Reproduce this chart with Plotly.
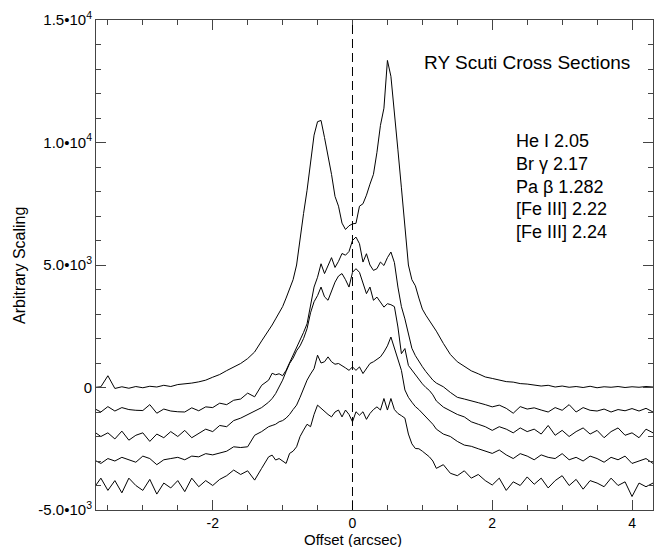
import plotly.graph_objects as go

# offsets (arcsec): 0.1 steps in the wings, 0.05 steps in the core
offset = [-3.7, -3.6, -3.5, -3.4, -3.3, -3.2, -3.1, -3.0, -2.9, -2.8,
          -2.7, -2.6, -2.5, -2.4, -2.3, -2.2, -2.1, -2.0, -1.9, -1.8,
          -1.7, -1.6, -1.5, -1.4, -1.3,
          -1.2, -1.15, -1.1, -1.05, -1.0, -0.95, -0.9, -0.85, -0.8, -0.75,
          -0.7, -0.65, -0.6, -0.55, -0.5, -0.45, -0.4, -0.35, -0.3, -0.25,
          -0.2, -0.15, -0.1, -0.05, 0.0, 0.05, 0.1, 0.15, 0.2, 0.25,
          0.3, 0.35, 0.4, 0.45, 0.5, 0.55, 0.6, 0.65, 0.7, 0.75,
          0.8, 0.85, 0.9, 0.95, 1.0, 1.05, 1.1, 1.15, 1.2,
          1.3, 1.4, 1.5, 1.6, 1.7, 1.8, 1.9, 2.0, 2.1, 2.2,
          2.3, 2.4, 2.5, 2.6, 2.7, 2.8, 2.9, 3.0, 3.1, 3.2,
          3.3, 3.4, 3.5, 3.6, 3.7, 3.8, 3.9, 4.0, 4.1, 4.2, 4.3]

he_i = [0, 30, 480, -40, 30, -30, 40, -10, 50, 20,
        90, 40, 120, 140, 180, 230, 300, 420, 530, 690,
        820, 980, 1180, 1450, 1900,
        2300, 2550, 2800, 3050, 3300, 3650, 4050, 4400, 5000, 6100,
        7100, 8050, 9150, 10300, 10850, 10900, 10200, 9500, 8700, 7800,
        7400, 6710, 6450, 6600, 6680, 6700, 7400, 7500, 7850, 8300,
        8700, 9600, 10700, 11400, 13350, 12700, 11300, 9700, 8150, 6600,
        5000, 4400, 4150, 3650, 3200, 2950, 2750, 2500, 2300,
        1800, 1350, 1050, 850, 680, 560, 430, 370, 310, 240,
        220, 160, 140, 110, 60, 90, 20, 60, 10, 40,
        0, 50, -10, 30, 10, 40, 0, 30, 10, 40, 20]

br_gamma = [-850, -1000, -780, -960, -820, -900, -930, -940, -700, -1050,
            -880, -960, -990, -1000, -830, -950, -790, -820, -640, -700,
            -520, -470, -230, -380, 90,
            300, 580, 520, 560, 480, 700, 1000, 1300, 1650, 1950,
            2250, 2600, 3300, 4100, 4500, 5050, 4650, 4950, 5300, 4900,
            5150, 5470, 5400, 5550, 6000, 6140, 5870, 5120, 5460, 5000,
            4780, 4850, 5120, 4980, 5300, 5530, 5100, 4100, 3300, 2800,
            2200, 1600, 1300, 1050, 850, 650, 450, 300, 180,
            30, -200, -400, -470, -560, -620, -700, -790, -720, -850,
            -1050, -780, -880, -830, -920, -1000, -820, -930, -700, -1000,
            -820, -930, -960, -880, -1000, -900, -950, -860, -960, -850, -1000]

pa_beta = [-1800, -2000, -1850, -2100, -1780, -2150, -1950, -1850, -2200, -1900,
           -2050, -1800, -2000, -1750, -2050, -1870, -1700, -1800, -1550, -1600,
           -1350, -1250, -1100, -950, -820,
           -600, -450, -250, 0, 300, 650, 980, 1200, 1500, 1700,
           2000, 2400, 3050, 3500, 3750, 4100, 3700, 3560, 3960, 4300,
           4550, 4650, 4400, 4100, 4700, 4850, 4700, 4240, 3830, 4100,
           3560, 3690, 3500, 3280, 3420, 3380, 3300, 2470, 1380, 1590,
           900, 700, 500, 300, 150, 0, -120, -300, -550,
           -800, -950, -1100, -1200, -1400, -1500, -1600, -1750, -1600, -1700,
           -1850, -1650, -1800, -1700, -1900, -1550, -1950, -1750, -2000, -1800,
           -1650, -1900, -1750, -2050, -1800, -1650, -1950, -1850, -2050, -1700, -1850]

fe3_222 = [-2950, -3100, -2900, -3000, -2850, -2950, -3050, -2800, -2900, -3150,
           -2950, -2900, -2850, -2950, -2800, -2830, -2700, -2750, -2690, -2600,
           -2420, -2450, -2420, -1950, -1800,
           -1600, -1550, -1500, -1400, -1350, -1250, -1100, -900, -720, -400,
           -50, 300, 550, 770, 1320, 1000, 1050, 1250, 1050, 950,
           980, 900, 800, 700, 840, 700, 840, 570, 800, 980,
           1050, 1150, 1250, 1450, 1700, 2060, 1600, 1110, 700, -100,
           -400, -600, -780, -900, -1050, -1200, -1330, -1500, -1700,
           -1900, -2000, -2200, -2350, -2400, -2500, -2600, -2690, -2550, -2750,
           -2900, -2700, -2800, -2950, -2750, -2850, -2900, -2700, -2950, -2850,
           -3000, -2800, -2900, -3050, -2850, -2950, -2800, -3100, -3000, -2900, -3100]

fe3_224 = [-4100, -3700, -4200, -3800, -4300, -3700, -4000, -4200, -3750, -4350,
           -3900, -4100, -3800, -4250, -3700, -4050, -3800, -4000, -3750, -3600,
           -3370, -3550, -3400, -3780, -3300,
           -2830, -2760, -2960, -2900, -3000, -3100, -2690, -2600, -2420, -2000,
           -1740, -1500, -1600, -1100, -720, -850, -1000, -1100, -1200, -1000,
           -920, -1200, -920, -1100, -1400, -990, -1130, -990, -1300, -1060,
           -900, -790, -920, -450, -920, -450, -900, -1060, -1150, -1250,
           -1900, -2300, -2490, -2500, -2600, -2700, -2830, -3000, -3300,
           -3150, -3500, -3600, -3400, -3700, -3550, -3800, -3980, -3700, -4200,
           -3850, -4000, -3650, -3950, -3700, -4100, -3800, -3600, -4000, -3750,
           -4150, -3800, -3900, -4050, -3700, -4000, -3850, -4450, -3900, -4050, -3900]

series = [("He I 2.05", he_i), ("Br \u03b3 2.17", br_gamma), ("Pa \u03b2 1.282", pa_beta),
          ("[Fe III] 2.22", fe3_222), ("[Fe III] 2.24", fe3_224)]
for _, vals in series:
    assert len(vals) == len(offset), (len(vals), len(offset))

y_tickvals = [-5000, 0, 5000, 10000, 15000]
y_ticktext = ["-5.0\u202210<sup>3</sup>", "0", "5.0\u202210<sup>3</sup>",
              "1.0\u202210<sup>4</sup>", "1.5\u202210<sup>4</sup>"]
x_tickvals = [-2, 0, 2, 4]
x_ticktext = ["-2", "0", "2", "4"]

FONT = "Liberation Sans, Arial, Helvetica, sans-serif"
AX = "#444444"

fig = go.Figure()
for name, vals in series:
    fig.add_trace(go.Scatter(x=offset, y=vals, mode="lines", name=name,
                             line=dict(color="black", width=1), showlegend=False))

fig.add_shape(type="line", xref="x", yref="paper", x0=0, x1=0, y0=0, y1=1,
              line=dict(color="black", width=1, dash="9px,5px"))

fig.update_xaxes(range=[-3.67, 4.3], showline=True, linecolor=AX, linewidth=1,
                 mirror="ticks", ticks="inside", ticklen=10, tickcolor=AX,
                 tickmode="array", tickvals=x_tickvals, ticktext=x_ticktext,
                 minor=dict(tickmode="linear", tick0=0, dtick=0.5, ticks="inside",
                            ticklen=5, tickcolor=AX, showgrid=False),
                 showgrid=False, zeroline=False,
                 tickfont=dict(family=FONT, size=14, color="black"))
fig.update_yaxes(range=[-5000, 15000], showline=True, linecolor=AX, linewidth=1,
                 mirror="ticks", ticks="inside", ticklen=10, tickcolor=AX,
                 tickmode="array", tickvals=y_tickvals, ticktext=y_ticktext,
                 minor=dict(tickmode="linear", tick0=0, dtick=1000, ticks="inside",
                            ticklen=5, tickcolor=AX, showgrid=False),
                 showgrid=False, zeroline=False,
                 tickfont=dict(family=FONT, size=15, color="black"))

annos = [dict(x=1.0, y=13256, xref="x", yref="y", text="RY Scuti Cross Sections",
              xanchor="left", yanchor="middle", showarrow=False,
              font=dict(family=FONT, size=19, color="black"))]
label_y = [10077, 9140, 8203, 7266, 6329]
for (name, _), ly in zip(series, label_y):
    annos.append(dict(x=2.314, y=ly, xref="x", yref="y", text=name,
                      xanchor="left", yanchor="middle", showarrow=False,
                      align="left", font=dict(family=FONT, size=18, color="black")))
annos.append(dict(x=(353 - 96) / 558, y=0, xref="paper", yref="paper",
                  yshift=-29, text="Offset (arcsec)", xanchor="center",
                  yanchor="middle", showarrow=False,
                  font=dict(family=FONT, size=15, color="black")))
annos.append(dict(x=0, y=(510 - 266) / 490, xref="paper", yref="paper",
                  xshift=-77, text="Arbitrary Scaling", textangle=-90,
                  xanchor="center", yanchor="middle", showarrow=False,
                  font=dict(family=FONT, size=16, color="black")))

fig.update_layout(width=654, height=547, margin=dict(l=96, r=1, t=20, b=37),
                  paper_bgcolor="white", plot_bgcolor="white",
                  annotations=annos, showlegend=False)

fig.write_html("out.html")
